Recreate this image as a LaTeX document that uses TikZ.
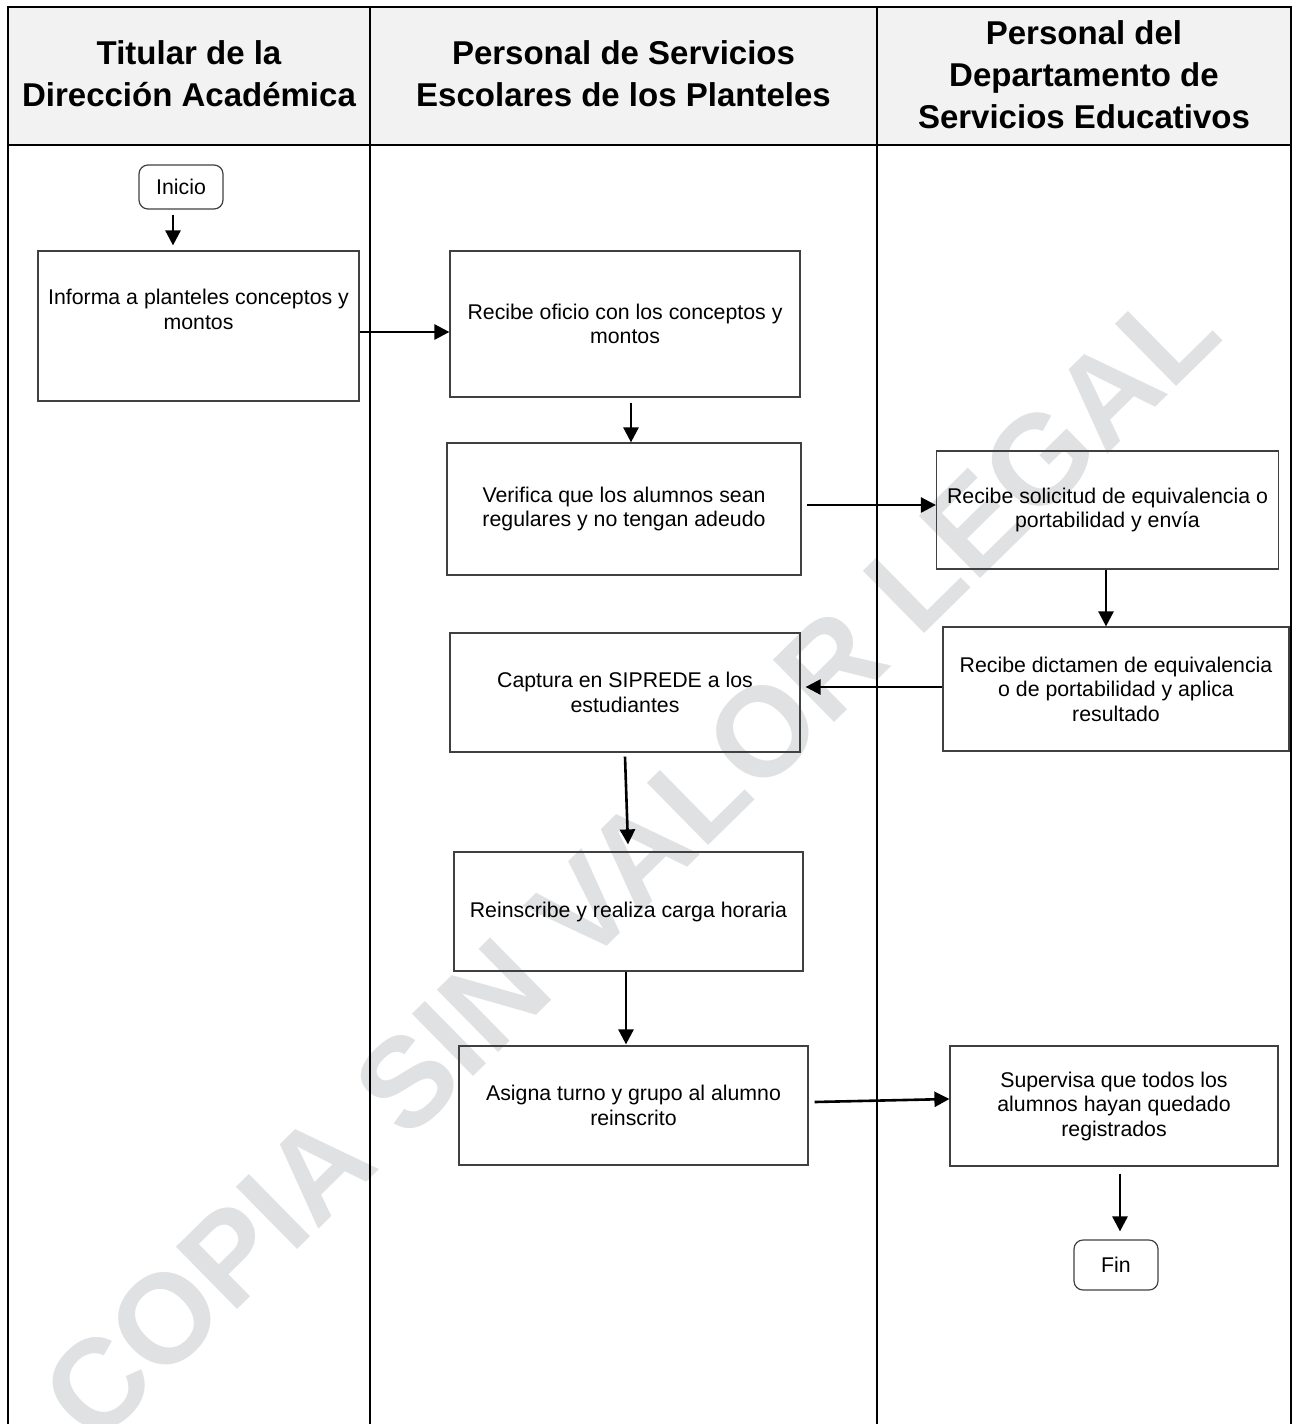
\documentclass[tikz,border=0pt]{standalone}
\usepackage{fontspec}
\setmainfont{Liberation Sans}
\usetikzlibrary{arrows.meta,calc}
\definecolor{hdr}{HTML}{F2F2F2}
\definecolor{wmc}{RGB}{224,225,227}
\definecolor{bx}{HTML}{404040}
\begin{document}
\begin{tikzpicture}[x=1pt,y=-1pt,
  lane/.style={line width=2.6pt, draw=black},
  box/.style={draw=bx, line width=1.2pt, align=center, inner sep=0pt, font=\fontsize{21.3}{24.5}\selectfont},
  term/.style={box, rounded corners=9pt},
  txt/.style={align=center, inner sep=0pt, font=\fontsize{21.3}{24.5}\selectfont},
  hd/.style={align=center, inner sep=0pt, font=\bfseries\fontsize{33}{42}\selectfont},
  wmark/.style={text=wmc, inner sep=0pt, rotate=44.5, font=\bfseries\fontsize{127}{127}\selectfont},
  arr/.style={line width=2.6pt, draw=black, -{Triangle[length=15pt,width=15pt]}},
]
\useasboundingbox (0,0) rectangle (1294,1424);

% watermark
\node[wmark] (wm) at (630,862) {COPIA SIN VALOR LEGAL};

% header and lanes
\fill[hdr] (8,7) rectangle (1291,145);
\draw[lane] (8,1424) -- (8,7) -- (1291,7) -- (1291,1424);
\draw[lane] (8,145) -- (1291,145);
\draw[lane] (370,7) -- (370,1424);
\draw[lane] (877,7) -- (877,1424);

\node[hd] (h1) at (189,74) {Titular de la\\Dirección Académica};
\node[hd] (h2) at (623.5,74) {Personal de Servicios\\Escolares de los Planteles};
\node[hd] (h3) at (1084,75) {Personal del\\Departamento de\\Servicios Educativos};

% nodes
\node[term, minimum width=84pt, minimum height=44pt] (inicio) at (181,187) {Inicio};
\node[box, minimum width=321pt, minimum height=150pt] (b1) at (198.5,326) {};
\node[txt] (t1) at (198.5,309.5) {Informa a planteles conceptos y\\montos};
\node[box, minimum width=350pt, minimum height=146pt] (b2) at (625,324) {Recibe oficio con los conceptos y\\montos};
\node[box, minimum width=354pt, minimum height=132pt] (b3) at (624,509) {Verifica que los alumnos sean\\regulares y no tengan adeudo};
\node[box, minimum width=342pt, minimum height=118pt] (b4) at (1107.5,510) {Recibe solicitud de equivalencia o\\portabilidad y envía};
\node[box, minimum width=346pt, minimum height=124pt] (b5) at (1116,689) {Recibe dictamen de equivalencia\\o de portabilidad y aplica\\resultado};
\node[box, minimum width=350pt, minimum height=119pt] (b6) at (625,692.5) {Captura en SIPREDE a los\\estudiantes};
\node[box, minimum width=349pt, minimum height=119pt] (b7) at (628.5,911.5) {Reinscribe y realiza carga horaria};
\node[box, minimum width=349pt, minimum height=119pt] (b8) at (633.5,1105.5) {Asigna turno y grupo al alumno\\reinscrito};
\node[box, minimum width=328pt, minimum height=120pt] (b9) at (1114,1106) {Supervisa que todos los\\alumnos hayan quedado\\registrados};
\node[term, minimum width=84pt, minimum height=50pt] (fin) at (1116,1265) {Fin};

% connectors
\coordinate (xa) at (173,0);
\draw[arr] ($(inicio.south -| xa)+(0,5)$) -- ($(b1.north -| xa)+(0,-5)$);
\coordinate (ya) at (0,332);
\draw[arr] (b1.east |- ya) -- (b2.west |- ya);
\coordinate (xb) at (631,0);
\draw[arr] ($(b2.south -| xb)+(0,5)$) -- (b3.north -| xb);
\coordinate (yb) at (0,505);
\draw[arr] ($(b3.east |- yb)+(5,0)$) -- (b4.west |- yb);
\coordinate (xc) at (1106,0);
\draw[arr] (b4.south -| xc) -- (b5.north -| xc);
\coordinate (yc) at (0,687);
\draw[arr] (b5.west |- yc) -- ($(b6.east |- yc)+(5,0)$);
\coordinate (xd) at (625,0);
\coordinate (xe) at (628,0);
\draw[arr] ($(b6.south -| xd)+(0,4)$) -- ($(b7.north -| xe)+(0,-7)$);
\coordinate (xf) at (626,0);
\draw[arr] (b7.south -| xf) -- ($(b8.north -| xf)+(0,-1)$);
\coordinate (yd) at (0,1102);
\coordinate (ye) at (0,1099);
\draw[arr] ($(b8.east |- yd)+(6,0)$) -- (b9.west |- ye);
\coordinate (xg) at (1120,0);
\draw[arr] ($(b9.south -| xg)+(0,7)$) -- ($(fin.north -| xg)+(0,-8)$);
\end{tikzpicture}
\end{document}
